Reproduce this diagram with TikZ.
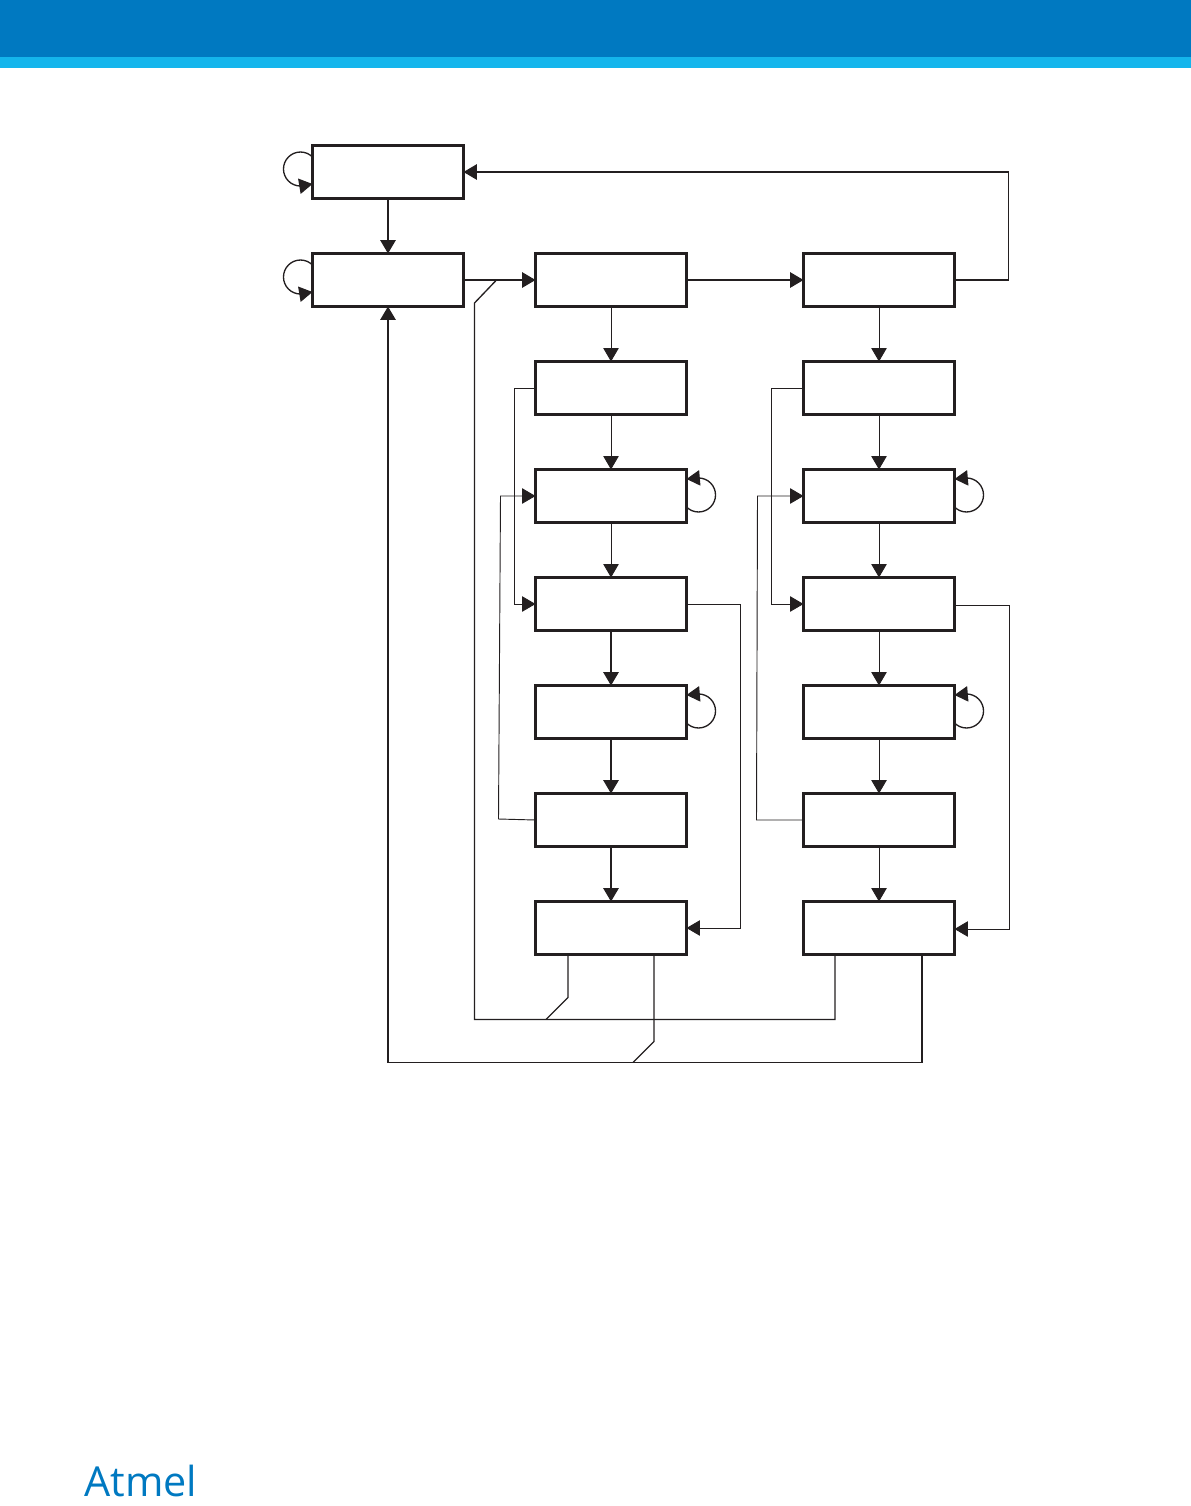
\documentclass[tikz,border=0pt]{standalone}
\usepackage{fontspec}
\setsansfont{Open Sans}
\usetikzlibrary{arrows.meta,positioning}
\definecolor{atmelblue}{HTML}{0079C1}
\definecolor{atmelcyan}{HTML}{14B5EC}
\definecolor{inkblack}{HTML}{231F20}
\begin{document}
\begin{tikzpicture}[
  node distance=41.25pt,
  box/.style={draw=inkblack,line width=1.7pt,minimum width=113.25pt,minimum height=39.75pt,inner sep=0pt,outer sep=0pt},
  arr/.style={-{Triangle[length=10pt,width=11.5pt]},line width=1.2pt,draw=inkblack},
  thinarr/.style={-{Triangle[length=10pt,width=11.5pt]},line width=.7pt,draw=inkblack},
  looparr/.style={-{Triangle[length=10pt,width=11.5pt]},line width=1pt,draw=inkblack},
  wire/.style={line width=1pt,draw=inkblack},
  band/.style={fill=atmelblue},
  stripe/.style={fill=atmelcyan},
  logo/.style={font=\sffamily\fontsize{31pt}{31pt}\selectfont,text=atmelblue,inner sep=0pt}
]
\useasboundingbox (0,0) rectangle (893.25pt,-1129.5pt);
\fill[band] (0,0) rectangle (893.25pt,-43pt);
\fill[stripe] (0,-43pt) rectangle (893.25pt,-51pt);
\node[logo,anchor=base west] (brand) at (63pt,-1122pt) {Atmel};
\node[box] (top) at (291pt,-129pt) {};
\node[box,below=of top] (idle) {};
\node[box,right=54pt of idle] (a1) {};
\node[box,below=of a1] (a2) {};
\node[box,below=of a2] (a3) {};
\node[box,below=of a3] (a4) {};
\node[box,below=of a4] (a5) {};
\node[box,below=of a5] (a6) {};
\node[box,below=of a6] (a7) {};
\node[box,right=87.75pt of a1] (b1) {};
\node[box,below=of b1] (b2) {};
\node[box,below=of b2] (b3) {};
\node[box,below=of b3] (b4) {};
\node[box,below=of b4] (b5) {};
\node[box,below=of b5] (b6) {};
\node[box,below=of b6] (b7) {};
\draw[arr] (top) -- (idle);
\draw[arr] (idle) -- (a1);
\draw[arr] (a1) -- (b1);
\draw[arr] (b1.east) -- ++(40.5pt,0) |- (top.east);
\draw[thinarr] (a1) -- (a2);
\draw[thinarr] (a2) -- (a3);
\draw[thinarr] (a3) -- (a4);
\draw[arr] (a4) -- (a5);
\draw[arr] (a5) -- (a6);
\draw[arr] (a6) -- (a7);
\draw[thinarr] (b1) -- (b2);
\draw[thinarr] (b2) -- (b3);
\draw[thinarr] (b3) -- (b4);
\draw[thinarr] (b4) -- (b5);
\draw[thinarr] (b5) -- (b6);
\draw[thinarr] (b6) -- (b7);
\draw[thinarr] (a2.west) -- ++(-15.75pt,0) |- (a4.west);
\draw[thinarr] (b2.west) -- ++(-24pt,0) |- (b4.west);
\draw[thinarr] (a6.west) -- ++(-27.75pt,.75pt) -- ([xshift=-26.25pt]a3.west) -- (a3.west);
\draw[thinarr] (b6.west) -- ++(-35.25pt,0) -- ([xshift=-34.5pt]b3.west) -- (b3.west);
\draw[thinarr] (a4.east) -- ++(40.5pt,0) |- (a7.east);
\draw[thinarr] ([yshift=-.75pt]b4.east) -- ++(41.25pt,0) |- ([yshift=-.75pt]b7.east);
\draw[arr] ([xshift=32.25pt]b7.south) -- ++(0,-81pt) -| (idle.south);
\coordinate (busA) at ([xshift=24.75pt]idle.east);
\coordinate (busB) at ([xshift=-33pt,yshift=-48.75pt]b7.south);
\draw[wire] ([xshift=-33pt]b7.south) -- (busB) -| ([xshift=-16.5pt,yshift=-17.25pt]busA) -- (busA);
\draw[wire] ([xshift=-32.25pt]a7.south) -- ++(0,-32.25pt) -- ++(-16.5pt,-16.5pt);
\draw[wire] ([xshift=32.25pt]a7.south) -- ++(0,-65.25pt) -- ++(-15.75pt,-15.75pt);
\draw[looparr] ([yshift=11.25pt]top.west) arc[start angle=45,end angle=270,radius=12.75pt] -- ([yshift=-9pt]top.west);
\draw[looparr] ([yshift=11.25pt]idle.west) arc[start angle=45,end angle=270,radius=12.75pt] -- ([yshift=-9pt]idle.west);
\draw[looparr] ([yshift=-8.25pt]a3.east) arc[start angle=225,end angle=450,radius=12.75pt] -- ([yshift=12.75pt]a3.east);
\draw[looparr] ([yshift=-8.25pt]a5.east) arc[start angle=225,end angle=450,radius=12.75pt] -- ([yshift=12.75pt]a5.east);
\draw[looparr] ([yshift=-8.25pt]b3.east) arc[start angle=225,end angle=450,radius=12.75pt] -- ([yshift=12.75pt]b3.east);
\draw[looparr] ([yshift=-8.25pt]b5.east) arc[start angle=225,end angle=450,radius=12.75pt] -- ([yshift=12.75pt]b5.east);
\end{tikzpicture}
\end{document}
